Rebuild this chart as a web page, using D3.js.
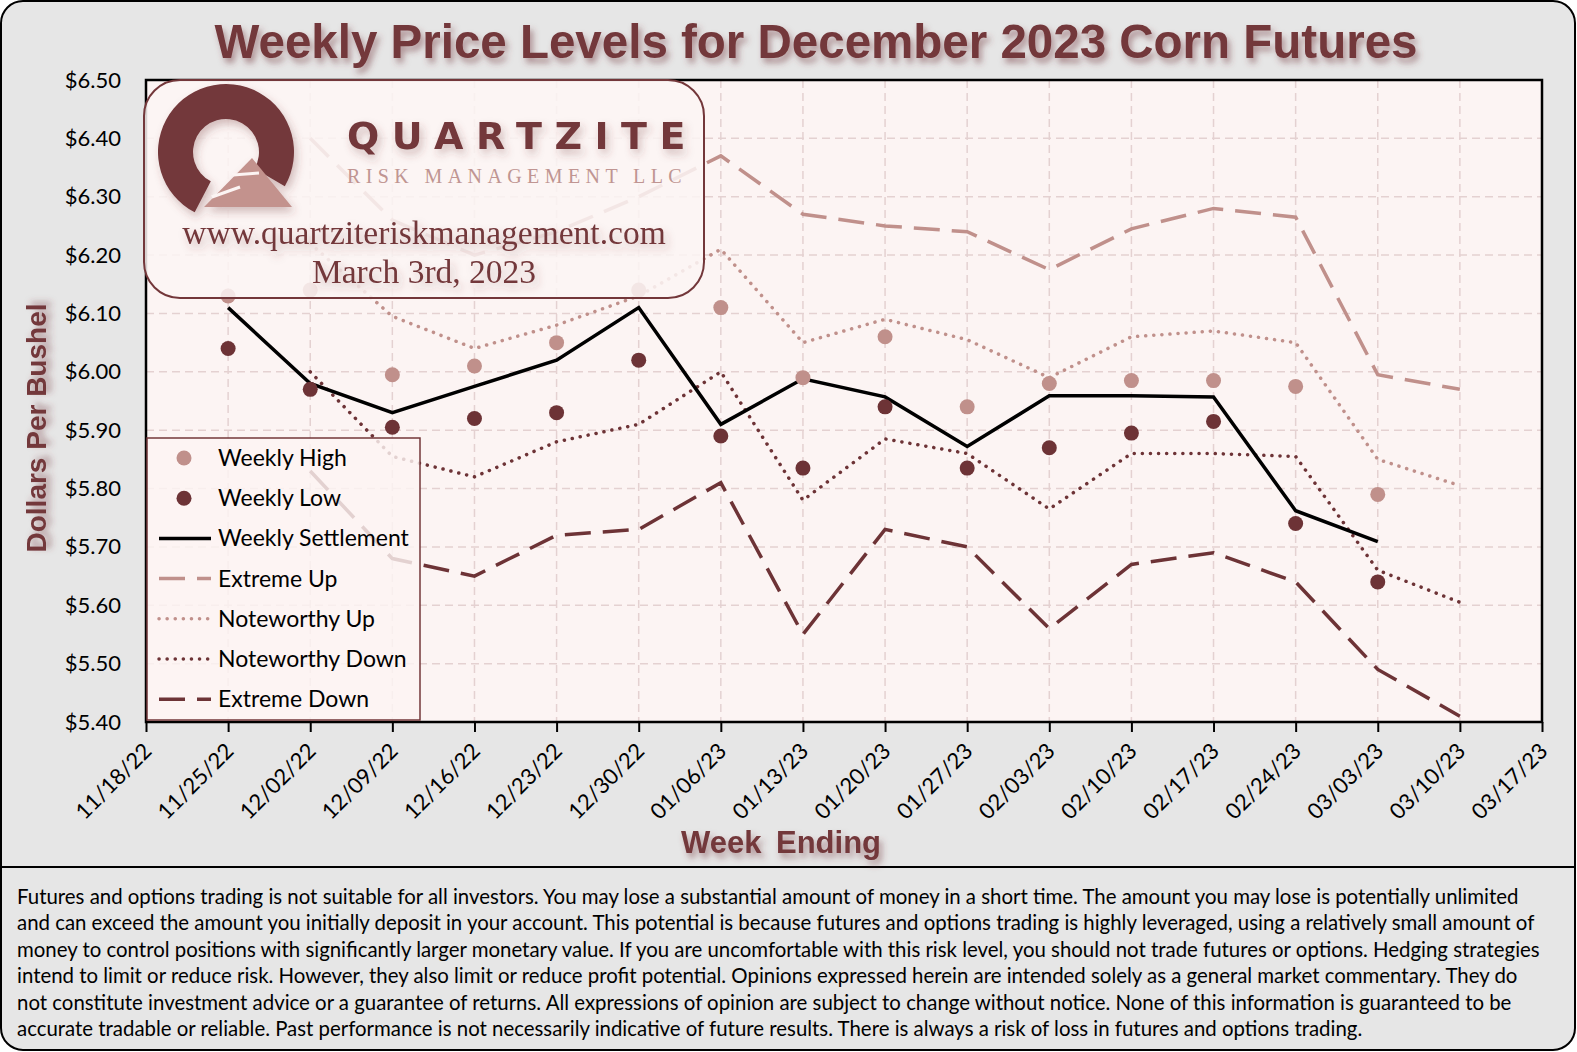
<!DOCTYPE html>
<html>
<head>
<meta charset="utf-8">
<script src="https://cdn.jsdelivr.net/npm/d3@7"></script>
<style>
  body { margin: 0; background: #ffffff; }
  svg { display: block; }
</style>
</head>
<body>
<div id="chart"></div>
<script>
// ===========================================
// Data
var weeks = ["11/18/22","11/25/22","12/02/22","12/09/22","12/16/22","12/23/22","12/30/22",
             "01/06/23","01/13/23","01/20/23","01/27/23","02/03/23","02/10/23","02/17/23",
             "02/24/23","03/03/23","03/10/23","03/17/23"];

// weekly high / low / settlement run 11/25/22 .. 03/03/23
var priceWeeks = weeks.slice(1, 16);
var weeklyHigh = [6.13, 6.14, 5.995, 6.01, 6.05, 6.14, 6.11, 5.99, 6.06, 5.94, 5.98, 5.985, 5.985, 5.975, 5.79];
var weeklyLow  = [6.04, 5.97, 5.905, 5.92, 5.93, 6.02, 5.89, 5.835, 5.94, 5.835, 5.87, 5.895, 5.915, 5.74, 5.64];
var settlement = [6.11, 5.98, 5.93, 5.975, 6.02, 6.11, 5.91, 5.988, 5.957, 5.872, 5.959, 5.959, 5.957, 5.762, 5.709];

// projected levels run 12/02/22 .. 03/10/23
var levelWeeks = weeks.slice(2, 17);
var extremeUp     = [6.40, 6.26, 6.20, 6.24, 6.30, 6.37, 6.27, 6.25, 6.24, 6.175, 6.245, 6.28, 6.265, 5.995, 5.97];
var noteworthyUp  = [6.22, 6.095, 6.04, 6.08, 6.13, 6.21, 6.05, 6.09, 6.055, 5.99, 6.06, 6.07, 6.05, 5.85, 5.805];
var noteworthyDn  = [6.00, 5.855, 5.82, 5.88, 5.91, 6.00, 5.78, 5.885, 5.86, 5.765, 5.86, 5.86, 5.855, 5.66, 5.605];
var extremeDn     = [5.83, 5.68, 5.65, 5.72, 5.73, 5.81, 5.55, 5.73, 5.70, 5.56, 5.67, 5.69, 5.64, 5.49, 5.41];

var yTicks = [5.40, 5.50, 5.60, 5.70, 5.80, 5.90, 6.00, 6.10, 6.20, 6.30, 6.40, 6.50];

var footerLines = [
  "Futures and options trading is not suitable for all investors. You may lose a substantial amount of money in a short time. The amount you may lose is potentially unlimited",
  "and can exceed the amount you initially deposit in your account. This potential is because futures and options trading is highly leveraged, using a relatively small amount of",
  "money to control positions with significantly larger monetary value. If you are uncomfortable with this risk level, you should not trade futures or options. Hedging strategies",
  "intend to limit or reduce risk. However, they also limit or reduce profit potential. Opinions expressed herein are intended solely as a general market commentary. They do",
  "not constitute investment advice or a guarantee of returns. All expressions of opinion are subject to change without notice. None of this information is guaranteed to be",
  "accurate tradable or reliable. Past performance is not necessarily indicative of future results. There is always a risk of loss in futures and options trading."
];

// ===========================================
// Set up SVG element & chart area
var svgWidth = 1577;
var svgHeight = 1052;
var margin = {top: 80, right: 35, bottom: 330, left: 146};
var chartWidth = svgWidth - margin.left - margin.right;
var chartHeight = svgHeight - margin.top - margin.bottom;

var maroon = "#73373a";
var rose = "#c0908b";
var darkDot = "#6d3336";
var uiFont = "Lato, 'Open Sans', sans-serif";

var svg = d3.select("#chart")
    .append("svg")
    .attr("width", svgWidth)
    .attr("height", svgHeight);

var defs = svg.append("defs");
var shadow = defs.append("filter").attr("id", "shadow")
    .attr("x", "-20%").attr("y", "-40%").attr("width", "140%").attr("height", "180%");
shadow.append("feDropShadow")
    .attr("dx", 3).attr("dy", 5).attr("stdDeviation", 3)
    .attr("flood-color", maroon).attr("flood-opacity", 0.5);

var softShadow = defs.append("filter").attr("id", "softShadow")
    .attr("x", "-20%").attr("y", "-40%").attr("width", "140%").attr("height", "180%");
softShadow.append("feDropShadow")
    .attr("dx", 3).attr("dy", 5).attr("stdDeviation", 4)
    .attr("flood-color", maroon).attr("flood-opacity", 0.3);

// outer frame
svg.append("rect")
    .attr("x", 1).attr("y", 1)
    .attr("width", svgWidth - 3).attr("height", svgHeight - 3)
    .attr("rx", 22)
    .attr("fill", "#e6e6e6")
    .attr("stroke", "#000").attr("stroke-width", 2);

svg.append("line")
    .attr("x1", 1).attr("x2", svgWidth - 2)
    .attr("y1", 867).attr("y2", 867)
    .attr("stroke", "#000").attr("stroke-width", 2);

// title
svg.append("text")
    .attr("x", 816).attr("y", 58)
    .attr("text-anchor", "middle")
    .attr("font-family", "'Liberation Sans', Arial, sans-serif")
    .attr("font-weight", "bold")
    .attr("font-size", 47.5)
    .attr("fill", maroon)
    .attr("filter", "url(#shadow)")
    .text("Weekly Price Levels for December 2023 Corn Futures");

var chartGroup = svg.append("g")
    .attr("transform", `translate(${margin.left},${margin.top})`);

var xscale = d3.scalePoint().domain(weeks).range([0, chartWidth]);
var yscale = d3.scaleLinear().domain([5.4, 6.5]).range([chartHeight, 0]);

// plot background
chartGroup.append("rect")
    .attr("width", chartWidth).attr("height", chartHeight)
    .attr("fill", "#fcf4f3");

// gridlines
chartGroup.append("g").selectAll("line")
    .data(yTicks.slice(1, -1))
    .enter()
    .append("line")
    .attr("x1", 0).attr("x2", chartWidth)
    .attr("y1", d => yscale(d)).attr("y2", d => yscale(d))
    .attr("stroke", "#e4d1d1").attr("stroke-width", 1.5)
    .attr("stroke-dasharray", "8,5");

chartGroup.append("g").selectAll("line")
    .data(weeks.slice(1, -1))
    .enter()
    .append("line")
    .attr("x1", d => xscale(d)).attr("x2", d => xscale(d))
    .attr("y1", 0).attr("y2", chartHeight)
    .attr("stroke", "#e4d1d1").attr("stroke-width", 1.5)
    .attr("stroke-dasharray", "8,5");

// ===========================================
// series
var series = [
  {name: "Extreme Up", weeks: levelWeeks, values: extremeUp, color: rose, dash: "26,12", cap: "butt"},
  {name: "Noteworthy Up", weeks: levelWeeks, values: noteworthyUp, color: rose, dash: "0.1,8", cap: "round"},
  {name: "Noteworthy Down", weeks: levelWeeks, values: noteworthyDn, color: darkDot, dash: "0.1,8", cap: "round"},
  {name: "Extreme Down", weeks: levelWeeks, values: extremeDn, color: darkDot, dash: "26,12", cap: "butt"}
];

var lineGen = d3.line()
    .x(d => xscale(d[0]))
    .y(d => yscale(d[1]));

series.forEach(function(s) {
    chartGroup.append("path")
        .datum(d3.zip(s.weeks, s.values))
        .attr("d", lineGen)
        .attr("fill", "none")
        .attr("stroke", s.color)
        .attr("stroke-width", 3.5)
        .attr("stroke-linecap", s.cap)
        .attr("stroke-dasharray", s.dash);
});

chartGroup.append("path")
    .datum(d3.zip(priceWeeks, settlement))
    .attr("d", lineGen)
    .attr("fill", "none")
    .attr("stroke", "#000")
    .attr("stroke-width", 3.5)
    .attr("stroke-linejoin", "miter");

chartGroup.selectAll(".high")
    .data(d3.zip(priceWeeks, weeklyHigh))
    .enter()
    .append("circle")
    .attr("class", "high")
    .attr("cx", d => xscale(d[0]))
    .attr("cy", d => yscale(d[1]))
    .attr("r", 7.5)
    .attr("fill", rose);

chartGroup.selectAll(".low")
    .data(d3.zip(priceWeeks, weeklyLow))
    .enter()
    .append("circle")
    .attr("class", "low")
    .attr("cx", d => xscale(d[0]))
    .attr("cy", d => yscale(d[1]))
    .attr("r", 7.5)
    .attr("fill", darkDot);

// ===========================================
// logo box (sits over the plot, semi transparent)
var logo = svg.append("g");
logo.append("rect")
    .attr("x", 144).attr("y", 80)
    .attr("width", 560).attr("height", 218)
    .attr("rx", 36)
    .attr("fill", "#fcf4f3").attr("fill-opacity", 0.86)
    .attr("stroke", maroon).attr("stroke-width", 2);

var mark = logo.append("g").attr("filter", "url(#softShadow)");
mark.append("path")
    .attr("transform", "translate(226,152)")
    .attr("d", d3.arc()({innerRadius: 33, outerRadius: 68, startAngle: 3.62, endAngle: 8.38}))
    .attr("fill", maroon);
mark.append("path")
    .attr("d", "M252,158 L292,207 L204,207 Z")
    .attr("fill", "#c3928d");
mark.append("path")
    .attr("d", "M212,197 L240,187 M233,175 L259,173")
    .attr("stroke", "#fcf4f3").attr("stroke-width", 3);

logo.append("text")
    .attr("x", 347).attr("y", 149)
    .attr("font-family", "'DejaVu Sans', sans-serif")
    .attr("font-weight", "bold")
    .attr("font-size", 38)
    .attr("letter-spacing", 12.5)
    .attr("fill", maroon)
    .attr("filter", "url(#softShadow)")
    .text("QUARTZITE");

logo.append("text")
    .attr("x", 347).attr("y", 183)
    .attr("font-family", "'Liberation Serif', 'Times New Roman', serif")
    .attr("font-size", 20)
    .attr("letter-spacing", 5.4)
    .attr("fill", "#c09592")
    .text("RISK MANAGEMENT LLC");

logo.append("text")
    .attr("x", 424).attr("y", 244)
    .attr("text-anchor", "middle")
    .attr("font-family", "'Liberation Serif', 'Times New Roman', serif")
    .attr("font-size", 33.5)
    .attr("fill", maroon)
    .attr("filter", "url(#softShadow)")
    .text("www.quartziteriskmanagement.com");

logo.append("text")
    .attr("x", 424).attr("y", 283)
    .attr("text-anchor", "middle")
    .attr("font-family", "'Liberation Serif', 'Times New Roman', serif")
    .attr("font-size", 33.5)
    .attr("fill", maroon)
    .attr("filter", "url(#softShadow)")
    .text("March 3rd, 2023");

// ===========================================
// legend
var legendItems = [
  {label: "Weekly High", kind: "dot", color: rose},
  {label: "Weekly Low", kind: "dot", color: darkDot},
  {label: "Weekly Settlement", kind: "line", color: "#000", dash: null, cap: "butt"},
  {label: "Extreme Up", kind: "line", color: rose, dash: "26,12", cap: "butt"},
  {label: "Noteworthy Up", kind: "line", color: rose, dash: "0.1,8", cap: "round"},
  {label: "Noteworthy Down", kind: "line", color: darkDot, dash: "0.1,8", cap: "round"},
  {label: "Extreme Down", kind: "line", color: darkDot, dash: "26,12", cap: "butt"}
];

var legend = svg.append("g");
legend.append("rect")
    .attr("x", 147).attr("y", 438)
    .attr("width", 273).attr("height", 282)
    .attr("fill", "#fcf4f3").attr("fill-opacity", 0.82)
    .attr("stroke", maroon).attr("stroke-width", 1.5);

var rows = legend.selectAll(".row")
    .data(legendItems)
    .enter()
    .append("g")
    .attr("transform", (d, i) => `translate(0, ${458 + i * 40.2})`);

rows.filter(d => d.kind === "dot").append("circle")
    .attr("cx", 184).attr("cy", 0).attr("r", 7.5)
    .attr("fill", d => d.color);

rows.filter(d => d.kind === "line").append("line")
    .attr("x1", 159).attr("x2", 211)
    .attr("y1", 0).attr("y2", 0)
    .attr("stroke", d => d.color)
    .attr("stroke-width", 3.5)
    .attr("stroke-linecap", d => d.cap)
    .attr("stroke-dasharray", d => d.dash);

rows.append("text")
    .attr("x", 218).attr("y", 0)
    .attr("dy", "0.35em")
    .attr("font-family", uiFont)
    .attr("font-size", 23)
    .attr("fill", "#000")
    .text(d => d.label);

// ===========================================
// axes
var b_axis = d3.axisBottom(xscale).tickSizeInner(10).tickSizeOuter(0);
var l_axis = d3.axisLeft(yscale).tickValues(yTicks)
    .tickFormat(d => "$" + d.toFixed(2)).tickSize(0).tickPadding(25);

var xAxisG = chartGroup.append("g")
    .attr("transform", `translate(0, ${chartHeight})`)
    .call(b_axis);
xAxisG.select(".domain").remove();
xAxisG.selectAll(".tick line").attr("stroke", "#000").attr("stroke-width", 2);
xAxisG.selectAll(".tick text")
    .attr("x", 0).attr("y", 0).attr("dy", "0.35em")
    .attr("transform", "translate(1,25) rotate(-45)")
    .attr("text-anchor", "end")
    .attr("font-family", uiFont)
    .attr("font-size", 22)
    .attr("fill", "#000");

var yAxisG = chartGroup.append("g").call(l_axis);
yAxisG.select(".domain").remove();
yAxisG.selectAll(".tick text")
    .attr("font-family", uiFont)
    .attr("font-size", 22)
    .attr("fill", "#000");

// plot border
chartGroup.append("rect")
    .attr("width", chartWidth).attr("height", chartHeight)
    .attr("fill", "none")
    .attr("stroke", "#000").attr("stroke-width", 2.5);

// axis titles
svg.append("text")
    .attr("x", 781).attr("y", 853)
    .attr("text-anchor", "middle")
    .attr("font-family", "'Liberation Sans', Arial, sans-serif")
    .attr("font-weight", "bold")
    .attr("font-size", 31)
    .attr("fill", maroon)
    .attr("filter", "url(#shadow)")
    .attr("word-spacing", 6)
    .text("Week Ending");

svg.append("text")
    .attr("transform", "translate(46, 428) rotate(-90)")
    .attr("text-anchor", "middle")
    .attr("font-family", "'Liberation Sans', Arial, sans-serif")
    .attr("font-weight", "bold")
    .attr("font-size", 28)
    .attr("fill", maroon)
    .attr("filter", "url(#shadow)")
    .text("Dollars Per Bushel");

// disclaimer
svg.append("g").selectAll("text")
    .data(footerLines)
    .enter()
    .append("text")
    .attr("x", 17)
    .attr("y", (d, i) => 904 + i * 26.4)
    .attr("font-family", uiFont)
    .attr("font-size", 20.4)
    .attr("fill", "#000")
    .text(d => d);
</script>
</body>
</html>
